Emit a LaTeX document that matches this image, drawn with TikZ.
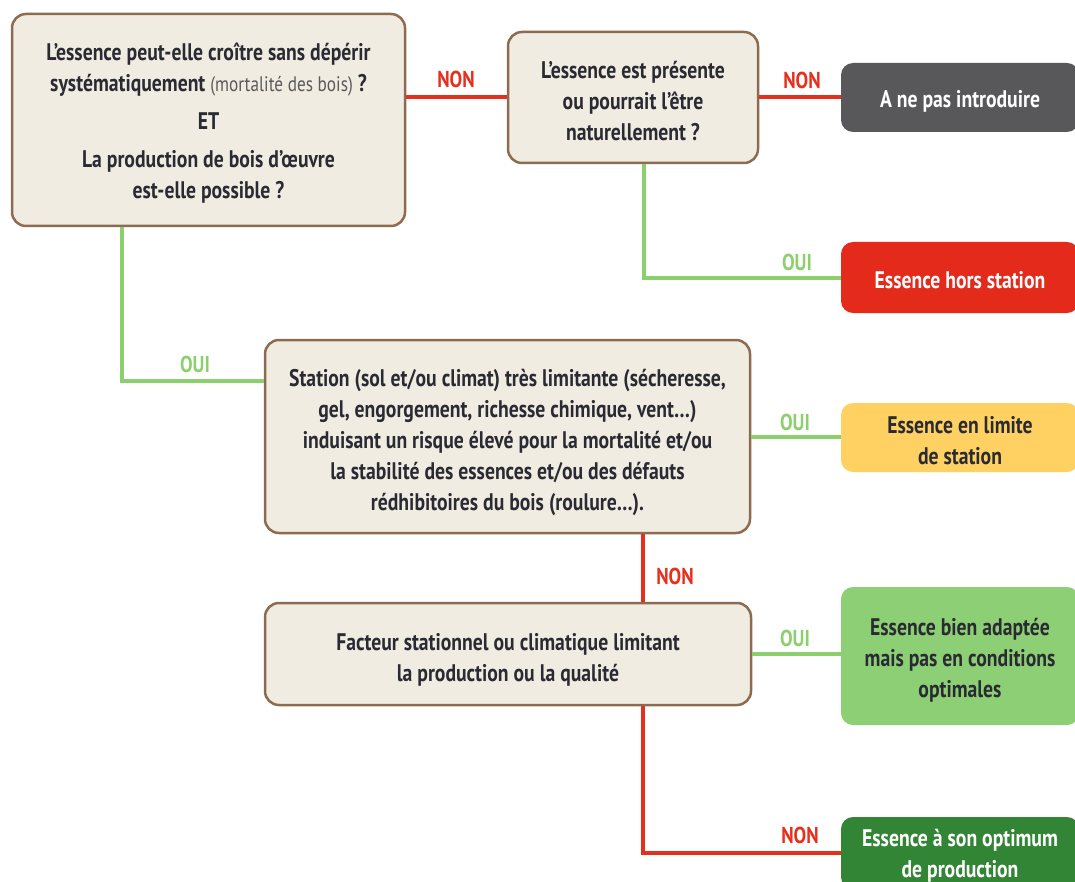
\documentclass[tikz,border=0pt]{standalone}
\usepackage{fontspec}
\setmainfont{PT Sans}[FakeStretch=0.82]
\definecolor{boxbeige}{HTML}{F1ECE2}
\definecolor{boxbrown}{HTML}{8C6B50}
\definecolor{txt}{HTML}{2A2A33}
\definecolor{lred}{HTML}{E6301E}
\definecolor{lgreen}{HTML}{8CD06E}
\definecolor{cgray}{HTML}{58585B}
\definecolor{cred}{HTML}{E32A1B}
\definecolor{cyellow}{HTML}{FFD162}
\definecolor{clgreen}{HTML}{8DCF75}
\definecolor{cdgreen}{HTML}{338536}
\definecolor{mgray}{HTML}{5A5A5A}
\begin{document}
\begin{tikzpicture}[x=1pt,y=-1pt,
  qbox/.style={draw=boxbrown, line width=2.5pt, fill=boxbeige, rounded corners=14pt, inner sep=0pt},
  rbox/.style={rounded corners=12pt, inner sep=0pt, minimum width=238pt},
  btext/.style={align=center, inner sep=0pt, font=\bfseries\fontsize{24}{31}\selectfont},
  redline/.style={draw=lred, line width=4pt},
  greenline/.style={draw=lgreen, line width=4pt},
  nonlbl/.style={text=lred, font=\bfseries\fontsize{23}{24}\selectfont, inner sep=0pt},
  ouilbl/.style={text=lgreen, font=\bfseries\fontsize{23}{24}\selectfont, inner sep=0pt}]
\useasboundingbox (0,0) rectangle (1075,882);
\clip (0,0) rectangle (1075,882);

% question boxes
\node[qbox, minimum width=393pt, minimum height=212pt] (b1) at (208.5,120) {};
\node[qbox, minimum width=250pt, minimum height=131pt] (b2) at (633,97.5) {};
\node[qbox, minimum width=485pt, minimum height=193pt] (b3) at (507.5,436.5) {};
\node[qbox, minimum width=486pt, minimum height=102pt] (b4) at (508,654) {};

\node[btext, text=txt] (t1) at ([yshift=-3pt]b1.center)
  {L’essence peut-elle croître sans dépérir\\
   systématiquement {\mdseries\fontsize{21}{31}\selectfont\color{mgray}(mortalité des bois)} ?\\[7pt]
   ET\\[7pt]
   La production de bois d’œuvre\\
   est-elle possible ?};
\node[btext, text=txt] (t2) at ([yshift=-4pt]b2.center)
  {L’essence est présente\\ ou pourrait l’être\\ naturellement ?};
\node[btext, text=txt] (t3) at ([yshift=-6pt]b3.center)
  {Station (sol et/ou climat) très limitante (sécheresse,\\
   gel, engorgement, richesse chimique, vent\ldots)\\
   induisant un risque élevé pour la mortalité et/ou\\
   la stabilité des essences et/ou des défauts\\
   rédhibitoires du bois (roulure\ldots).};
\node[btext, text=txt] (t4) at ([yshift=-6pt]b4.center)
  {Facteur stationnel ou climatique limitant\\ la production ou la qualité};

% result boxes
\node[rbox, fill=cgray, minimum height=69pt] (r1) at (960,97.5) {};
\node[rbox, fill=cred, minimum height=71pt] (r2) at (960,277.5) {};
\node[rbox, fill=cyellow, minimum height=69pt] (r3) at (960,437.5) {};
\node[rbox, fill=clgreen, minimum height=138pt] (r4) at (960,656) {};
\node[rbox, fill=cdgreen, minimum height=72pt] (r5) at (960,853) {};

\node[btext, text=white] (s1) at ([yshift=-4pt]r1.center) {A ne pas introduire};
\node[btext, text=white] (s2) at ([yshift=-3pt]r2.center) {Essence hors station};
\node[btext, text=txt] (s3) at ([yshift=-3pt]r3.center) {Essence en limite\\ de station};
\node[btext, text=txt] (s4) at ([yshift=-4pt]r4.center) {Essence bien adaptée\\ mais pas en conditions\\ optimales};
\node[btext, text=white] (s5) at ([yshift=-3pt]r5.center) {Essence à son optimum\\ de production};

% bend points
\coordinate (k1) at (122,381);
\coordinate (k2) at (644,278);
\coordinate (k3) at (643,853);

% connectors
\draw[redline] (b1.east |- b2.west) -- (b2.west);
\draw[redline] (b2.east) -- (b2.east -| r1.west);
\draw[greenline] (b2.south -| k2) -- (k2) -- (k2 -| r2.west);
\draw[greenline] (b1.south -| k1) -- (k1) -- (k1 -| b3.west);
\draw[greenline] (b3.east) -- (b3.east -| r3.west);
\draw[redline] (b3.south -| k3) -- (b4.north -| k3);
\draw[greenline] (b4.east) -- (b4.east -| r4.west);
\draw[redline] (b4.south -| k3) -- (k3) -- (k3 -| r5.west);

% labels
\node[nonlbl] (n1) at (456,79) {NON};
\node[nonlbl] (n2) at (802,80) {NON};
\node[nonlbl] (n3) at (675,576) {NON};
\node[nonlbl] (n4) at (800,835) {NON};
\node[ouilbl] (o1) at (797,262) {OUI};
\node[ouilbl] (o2) at (195,364) {OUI};
\node[ouilbl] (o3) at (795,422) {OUI};
\node[ouilbl] (o4) at (795,638) {OUI};
\end{tikzpicture}
\end{document}
